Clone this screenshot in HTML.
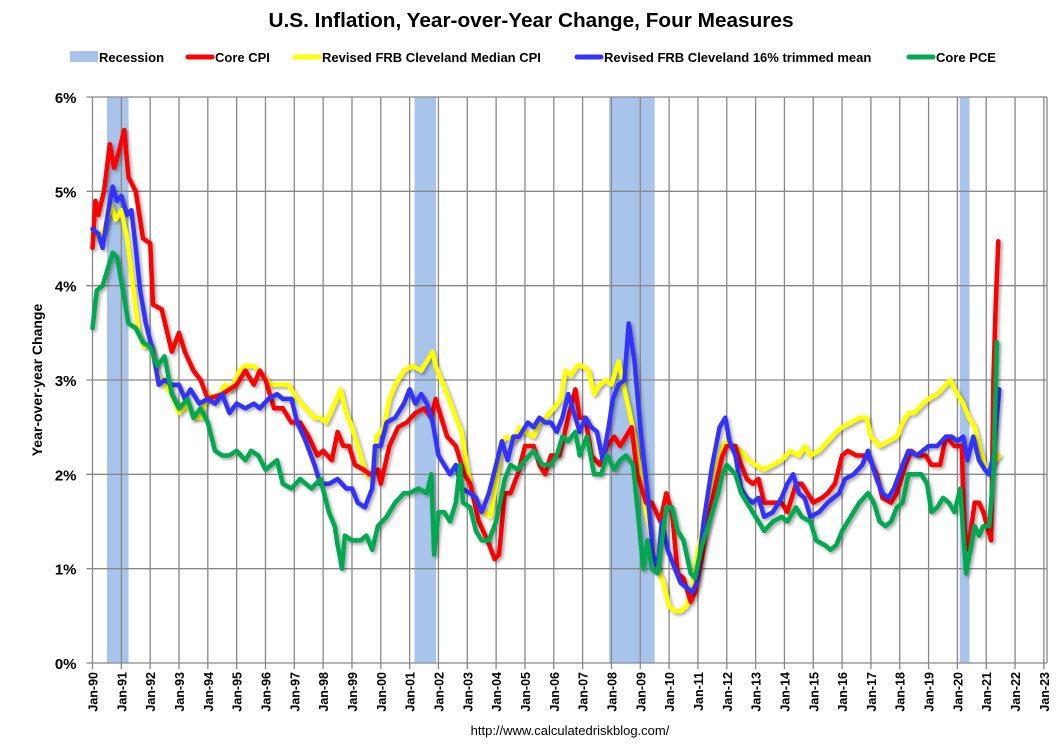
<!DOCTYPE html>
<html><head><meta charset="utf-8"><style>
html,body{margin:0;padding:0;background:#fff;}
body{width:1061px;height:740px;overflow:hidden;font-family:"Liberation Sans",sans-serif;}
svg text{font-family:"Liberation Sans",sans-serif;}
</style></head><body>
<svg id="chart" width="1061" height="740" viewBox="0 0 1061 740" xmlns="http://www.w3.org/2000/svg">
<defs><filter id="sh" x="-5%" y="-5%" width="110%" height="110%"><feDropShadow dx="2" dy="2" stdDeviation="1.5" flood-color="#000" flood-opacity="0.35"/></filter></defs>
<text x="531" y="27" text-anchor="middle" font-size="20" font-weight="bold" fill="#000" textLength="525" lengthAdjust="spacingAndGlyphs">U.S. Inflation, Year-over-Year Change, Four Measures</text>
<g id="legend"></g>
<g id="recess"></g><g id="grid"></g><g id="series"></g><g id="axes"></g>
<text transform="translate(42,380) rotate(-90)" text-anchor="middle" font-size="14" font-weight="bold">Year-over-year Change</text>
<text x="570" y="735" text-anchor="middle" font-size="13">http://www.calculatedriskblog.com/</text>
</svg>
<script>
const recessionStarts=[1990.5,2001.17,2007.92,2020.08];
const recessionEnds=[1991.25,2001.92,2009.5,2020.42];
const yTicks=[0,1,2,3,4,5,6];
const xYears=[];for(let y=1990;y<=2023;y++)xYears.push(y);
const cpiDates=[1990.0,1990.1,1990.2,1990.4,1990.6,1990.75,1990.9,1991.1,1991.25,1991.5,1991.75,1992.0,1992.1,1992.4,1992.75,1993.0,1993.2,1993.5,1993.75,1994.0,1994.5,1994.75,1995.0,1995.3,1995.6,1995.8,1996.0,1996.3,1996.6,1996.9,1997.2,1997.5,1997.8,1998.0,1998.3,1998.5,1998.7,1998.9,1999.1,1999.4,1999.6,1999.9,2000.0,2000.3,2000.6,2000.9,2001.2,2001.5,2001.75,2001.9,2002.1,2002.3,2002.6,2002.9,2003.1,2003.4,2003.7,2003.95,2004.1,2004.3,2004.5,2004.75,2005.0,2005.3,2005.5,2005.7,2005.9,2006.2,2006.5,2006.75,2006.9,2007.1,2007.3,2007.6,2007.85,2008.1,2008.3,2008.5,2008.7,2008.9,2009.2,2009.4,2009.7,2009.9,2010.1,2010.3,2010.5,2010.75,2010.9,2011.1,2011.4,2011.7,2011.85,2012.0,2012.3,2012.5,2012.7,2012.9,2013.1,2013.3,2013.6,2013.9,2014.1,2014.4,2014.6,2014.8,2015.0,2015.3,2015.5,2015.75,2016.0,2016.2,2016.5,2016.75,2016.9,2017.2,2017.4,2017.7,2017.9,2018.2,2018.4,2018.6,2018.9,2019.1,2019.4,2019.6,2019.9,2020.15,2020.25,2020.37,2020.6,2020.75,2020.9,2021.17,2021.25,2021.33,2021.42];
const cpiValues=[4.4,4.9,4.75,5.0,5.5,5.25,5.4,5.65,5.15,5.0,4.5,4.45,3.8,3.75,3.3,3.5,3.3,3.1,3.0,2.8,2.85,2.9,2.95,3.1,2.95,3.1,3.0,2.7,2.7,2.55,2.55,2.4,2.2,2.25,2.15,2.45,2.3,2.3,2.1,2.05,2.0,2.05,1.9,2.3,2.5,2.55,2.65,2.7,2.6,2.8,2.6,2.4,2.3,2.0,1.9,1.5,1.3,1.1,1.15,1.8,1.8,2.0,2.3,2.3,2.1,2.0,2.2,2.2,2.6,2.9,2.6,2.6,2.2,2.1,2.3,2.4,2.3,2.4,2.5,2.0,1.7,1.7,1.5,1.8,1.6,0.95,0.9,0.65,0.75,1.05,1.6,2.0,2.2,2.3,2.3,2.1,1.95,1.9,1.95,1.7,1.7,1.7,1.6,1.9,1.9,1.8,1.7,1.75,1.8,1.9,2.2,2.25,2.2,2.2,2.2,2.0,1.75,1.7,1.8,2.1,2.25,2.2,2.2,2.1,2.1,2.4,2.3,2.3,1.4,1.2,1.7,1.7,1.6,1.3,3.0,3.8,4.47];
const medDates=[1990.0,1990.2,1990.4,1990.65,1990.8,1991.0,1991.2,1991.4,1991.6,1991.8,1992.0,1992.2,1992.5,1992.75,1993.0,1993.3,1993.5,1993.75,1994.0,1994.3,1994.6,1994.8,1995.1,1995.3,1995.6,1995.9,1996.2,1996.5,1996.8,1997.1,1997.4,1997.7,1997.9,1998.1,1998.4,1998.6,1998.8,1999.0,1999.3,1999.5,1999.7,1999.85,2000.1,2000.3,2000.5,2000.8,2001.1,2001.4,2001.6,2001.8,2001.9,2002.1,2002.3,2002.6,2002.8,2003.0,2003.2,2003.4,2003.6,2003.8,2004.0,2004.2,2004.4,2004.6,2004.8,2005.0,2005.3,2005.5,2005.7,2006.0,2006.25,2006.4,2006.6,2006.8,2007.0,2007.2,2007.4,2007.6,2007.8,2008.0,2008.25,2008.45,2008.6,2008.8,2009.0,2009.2,2009.4,2009.6,2009.8,2010.0,2010.2,2010.4,2010.6,2010.8,2011.0,2011.3,2011.6,2011.85,2012.0,2012.2,2012.5,2012.75,2013.0,2013.3,2013.6,2013.9,2014.2,2014.5,2014.7,2014.9,2015.2,2015.5,2015.8,2016.0,2016.3,2016.6,2016.85,2017.0,2017.3,2017.6,2017.9,2018.1,2018.3,2018.5,2018.8,2019.0,2019.3,2019.6,2019.75,2020.0,2020.2,2020.4,2020.6,2020.8,2021.0,2021.2,2021.45];
const medValues=[4.55,4.5,4.6,4.85,4.7,4.8,4.5,4.0,3.5,3.35,3.4,3.1,2.95,2.85,2.65,2.75,2.6,2.6,2.85,2.8,2.95,2.9,3.1,3.15,3.15,3.05,2.95,2.95,2.95,2.8,2.7,2.6,2.6,2.55,2.75,2.9,2.65,2.5,2.2,2.0,1.95,2.4,2.5,2.8,2.95,3.1,3.15,3.1,3.2,3.3,3.15,3.0,2.85,2.6,2.45,2.05,1.75,1.7,1.6,1.55,1.9,2.35,2.4,2.35,2.5,2.45,2.4,2.55,2.6,2.7,2.8,3.1,3.05,3.15,3.15,3.1,2.85,2.95,3.0,2.95,3.2,2.9,2.7,2.4,2.0,1.6,1.3,1.0,0.85,0.6,0.55,0.55,0.6,0.8,1.2,1.6,2.0,2.3,2.35,2.3,2.25,2.15,2.1,2.05,2.1,2.15,2.25,2.2,2.3,2.2,2.25,2.35,2.45,2.5,2.55,2.6,2.6,2.4,2.3,2.35,2.4,2.55,2.65,2.65,2.75,2.8,2.85,2.95,3.0,2.85,2.75,2.6,2.5,2.25,2.05,2.1,2.2];
const trimDates=[1990.0,1990.2,1990.35,1990.55,1990.7,1990.85,1991.0,1991.2,1991.35,1991.5,1991.65,1991.85,1992.1,1992.3,1992.5,1992.75,1993.0,1993.2,1993.4,1993.7,1994.0,1994.25,1994.5,1994.75,1995.0,1995.3,1995.6,1995.8,1996.1,1996.4,1996.6,1996.9,1997.1,1997.4,1997.7,1997.9,1998.2,1998.5,1998.8,1999.0,1999.2,1999.45,1999.7,1999.8,2000.0,2000.2,2000.5,2000.8,2001.0,2001.2,2001.4,2001.6,2001.8,2002.0,2002.2,2002.4,2002.6,2002.8,2003.1,2003.3,2003.5,2003.75,2004.0,2004.2,2004.4,2004.6,2004.8,2005.1,2005.3,2005.5,2005.7,2005.9,2006.1,2006.3,2006.5,2006.7,2006.9,2007.1,2007.3,2007.5,2007.7,2007.9,2008.05,2008.25,2008.45,2008.6,2008.8,2009.0,2009.25,2009.45,2009.6,2009.75,2009.95,2010.2,2010.4,2010.6,2010.8,2010.95,2011.2,2011.5,2011.75,2011.95,2012.1,2012.3,2012.5,2012.7,2012.9,2013.1,2013.3,2013.6,2013.9,2014.1,2014.3,2014.5,2014.7,2014.9,2015.2,2015.5,2015.7,2015.9,2016.1,2016.4,2016.7,2016.9,2017.2,2017.4,2017.6,2017.8,2018.1,2018.3,2018.6,2018.8,2019.0,2019.3,2019.6,2019.8,2020.0,2020.2,2020.35,2020.55,2020.75,2020.95,2021.1,2021.25,2021.45];
const trimValues=[4.6,4.55,4.4,4.8,5.05,4.9,4.95,4.75,4.8,4.4,3.95,3.6,3.3,2.95,3.0,2.95,2.95,2.8,2.9,2.75,2.8,2.75,2.85,2.65,2.75,2.7,2.75,2.7,2.8,2.85,2.8,2.8,2.55,2.35,2.1,1.9,1.9,1.95,1.85,1.85,1.7,1.65,1.85,2.3,2.3,2.55,2.6,2.75,2.9,2.75,2.85,2.75,2.55,2.2,2.1,2.0,2.1,1.85,1.8,1.75,1.6,1.8,2.1,2.35,2.15,2.4,2.4,2.55,2.5,2.6,2.55,2.55,2.45,2.6,2.85,2.65,2.45,2.6,2.5,2.45,2.15,2.5,2.8,2.95,3.0,3.6,3.2,2.5,1.8,1.15,1.0,1.5,1.2,1.0,0.85,0.8,0.75,0.85,1.5,2.1,2.5,2.6,2.35,2.2,1.85,1.75,1.7,1.75,1.55,1.6,1.75,1.9,2.0,1.8,1.75,1.55,1.6,1.7,1.75,1.8,1.95,2.0,2.1,2.25,1.95,1.8,1.75,1.85,2.1,2.25,2.2,2.25,2.3,2.3,2.4,2.4,2.35,2.4,2.15,2.4,2.15,2.05,2.0,2.2,2.9];
const pceDates=[1990.0,1990.15,1990.35,1990.5,1990.7,1990.85,1991.0,1991.25,1991.5,1991.75,1992.0,1992.25,1992.5,1992.75,1993.0,1993.3,1993.5,1993.75,1994.0,1994.25,1994.5,1994.75,1995.0,1995.3,1995.5,1995.75,1996.0,1996.4,1996.6,1996.9,1997.2,1997.4,1997.6,1997.9,1998.2,1998.4,1998.5,1998.6,1998.65,1998.75,1999.0,1999.3,1999.5,1999.7,1999.9,2000.2,2000.5,2000.8,2001.0,2001.3,2001.6,2001.75,2001.85,2002.0,2002.2,2002.4,2002.6,2002.75,2002.85,2003.1,2003.3,2003.5,2003.75,2004.0,2004.3,2004.5,2004.75,2005.0,2005.3,2005.6,2005.9,2006.1,2006.3,2006.5,2006.75,2006.9,2007.15,2007.4,2007.65,2007.85,2008.1,2008.3,2008.5,2008.75,2008.95,2009.1,2009.25,2009.4,2009.6,2009.75,2009.9,2010.1,2010.3,2010.5,2010.75,2010.9,2011.1,2011.4,2011.7,2011.85,2012.0,2012.3,2012.5,2012.7,2012.9,2013.1,2013.3,2013.6,2013.9,2014.1,2014.4,2014.6,2014.9,2015.1,2015.4,2015.6,2015.8,2016.0,2016.3,2016.6,2016.9,2017.1,2017.3,2017.5,2017.7,2017.9,2018.1,2018.3,2018.5,2018.75,2018.95,2019.1,2019.3,2019.5,2019.7,2019.9,2020.1,2020.3,2020.45,2020.6,2020.75,2020.9,2021.1,2021.25,2021.37];
const pceValues=[3.55,3.95,4.0,4.15,4.35,4.3,4.05,3.6,3.55,3.4,3.35,3.15,3.25,2.85,2.7,2.8,2.6,2.7,2.55,2.25,2.2,2.2,2.25,2.15,2.25,2.2,2.05,2.15,1.9,1.85,1.95,1.9,1.85,1.95,1.6,1.45,1.25,1.1,1.0,1.35,1.3,1.3,1.35,1.2,1.45,1.55,1.7,1.8,1.8,1.85,1.8,2.0,1.15,1.6,1.6,1.5,1.7,2.1,1.7,1.65,1.4,1.3,1.3,1.5,1.95,2.1,2.05,2.15,2.25,2.1,2.1,2.2,2.4,2.35,2.45,2.2,2.4,2.0,2.0,2.2,2.05,2.15,2.2,2.1,1.5,1.0,1.3,1.0,0.95,1.3,1.65,1.65,1.4,1.3,0.95,0.9,1.2,1.5,1.8,2.0,2.1,2.0,1.8,1.7,1.6,1.5,1.4,1.5,1.55,1.5,1.65,1.55,1.5,1.3,1.25,1.2,1.25,1.4,1.55,1.7,1.8,1.7,1.5,1.45,1.5,1.65,1.7,2.0,2.0,2.0,1.9,1.6,1.65,1.75,1.7,1.6,1.85,0.95,1.2,1.45,1.35,1.45,1.45,2.0,3.4];

const NS='http://www.w3.org/2000/svg';
const L=92.5,R=1047,T=97,B=663;
function xS(t){return 92.5+(t-1990)*28.83;}
function yS(v){return B-v*(B-T)/6;}
function mk(tag,attrs,parent){const e=document.createElementNS(NS,tag);for(const k in attrs)e.setAttribute(k,attrs[k]);parent.appendChild(e);return e;}
const gR=document.getElementById('recess'),gG=document.getElementById('grid'),gS=document.getElementById('series'),gA=document.getElementById('axes'),gL=document.getElementById('legend');
recessionStarts.forEach((s,i)=>{
  const r=mk('rect',{x:xS(s),y:T,width:xS(recessionEnds[i])-xS(s),height:B-T,fill:'#a9c4ea'},gR);
  
  
});
yTicks.forEach(v=>{
  const l=mk('line',{x1:L-6,x2:R,y1:yS(v),y2:yS(v),stroke:'#888','stroke-width':1.3},gG);
  
  
  const t=mk('text',{x:L-16,y:yS(v)+6,'text-anchor':'end','font-size':15,'font-weight':'bold'},gA);
  t.textContent=v+'%';
  
  
});
xYears.forEach(y=>{
  const x=xS(y);
  const l=mk('line',{x1:x,x2:x,y1:T,y2:B+6,stroke:'#888','stroke-width':1.3},gG);
  
  
  const t=mk('text',{transform:'translate('+(x+5)+','+(B+9)+') rotate(-90)','text-anchor':'end','font-size':12.5,'font-weight':'bold'},gA);
  t.textContent='Jan-'+String(y%100).padStart(2,'0');
  
  
});
mk('line',{x1:R,x2:R,y1:T,y2:B,stroke:'#888','stroke-width':1.3},gG);
function line(dates,vals,color,name){
  const d=dates.map((t,i)=>(i?'L':'M')+xS(t).toFixed(1)+','+yS(vals[i]).toFixed(1)).join('');
  const p=mk('path',{d:d,fill:'none',stroke:color,'stroke-width':4.5,'stroke-linejoin':'round','stroke-linecap':'round',filter:'url(#sh)'},gS);
  
  
}
line(medDates,medValues,'#ffff00','median-cpi-line');
line(cpiDates,cpiValues,'#ff0000','core-cpi-line');
line(trimDates,trimValues,'#3333ff','trimmed-mean-line');
line(pceDates,pceValues,'#00a84f','core-pce-line');
const legItems=[['Recession','#a9c4ea',70,true],['Core CPI','#ff0000',186,false],['Revised FRB Cleveland Median CPI','#ffff00',293,false],['Revised FRB Cleveland 16% trimmed mean','#3333ff',575,false],['Core PCE','#00a84f',907,false]];
legItems.forEach(it=>{
  const g=mk('g',{},gL);
  
  
  if(it[3])mk('rect',{x:it[2],y:51,width:28,height:11,fill:it[1]},g);
  else mk('line',{x1:it[2]+2,x2:it[2]+26,y1:57,y2:57,stroke:it[1],'stroke-width':5,'stroke-linecap':'round'},g);
  const t=mk('text',{x:it[2]+29,y:62,'font-size':13,'font-weight':'bold'},g);
  t.textContent=it[0];
});
</script>
</body></html>
